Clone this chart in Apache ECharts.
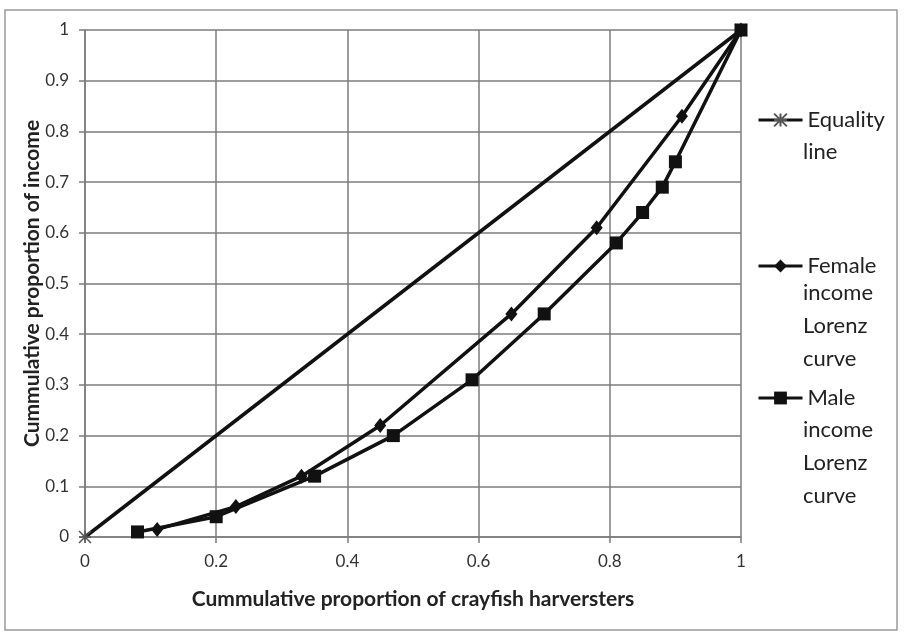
<!DOCTYPE html>
<html>
<head>
<meta charset="utf-8">
<script src="https://cdn.jsdelivr.net/npm/echarts@6/dist/echarts.min.js"></script>
<style>
  html, body { margin: 0; padding: 0; background: #fff; }
  #chart { width: 904px; height: 634px; }
</style>
</head>
<body>
<div id="chart"></div>
<script>
// data
const equalityX = [0, 1]
const equalityY = [0, 1]
const femaleX = [0.11, 0.23, 0.33, 0.45, 0.65, 0.78, 0.91, 1]
const femaleY = [0.015, 0.06, 0.12, 0.22, 0.44, 0.61, 0.83, 1]
const maleX = [0.08, 0.2, 0.35, 0.47, 0.59, 0.7, 0.81, 0.85, 0.88, 0.9, 1]
const maleY = [0.01, 0.04, 0.12, 0.2, 0.31, 0.44, 0.58, 0.64, 0.69, 0.74, 1]
const xTicks = [0, 0.2, 0.4, 0.6, 0.8, 1]
const yTicks = [0, 0.1, 0.2, 0.3, 0.4, 0.5, 0.6, 0.7, 0.8, 0.9, 1]

const names = ['Equality line', 'Female income Lorenz curve', 'Male income Lorenz curve']
const legendLines = [['Equality', 'line'], ['Female', 'income', 'Lorenz', 'curve'], ['Male', 'income', 'Lorenz', 'curve']]

const font = 'Lato, "Open Sans", sans-serif'
const gridColor = '#7c7c7c'
const pair = (xs, ys) => xs.map((x, i) => [x, ys[i]])

const chart = echarts.init(document.getElementById('chart'))

// legend has 5px padding, icon centre = top + 5 + itemHeight / 2
const legendTops = [104, 250, 382]
const legends = names.map((n, i) => ({
  data: [n],
  left: 752,
  top: legendTops[i],
  itemWidth: 44,
  itemHeight: 16,
  itemGap: 0,
  formatter: () => legendLines[i][0],
  lineStyle: { width: 3, color: '#111' },
  textStyle: { fontFamily: font, fontSize: 22, color: '#222' },
  selectedMode: false
}))

// follow-on lines of each legend label
const restTops = [135, 276, 413]
const legendRest = legendLines.map((ls, i) => ({
  type: 'text',
  left: 803,
  top: restTops[i],
  style: {
    text: ls.slice(1).join('\n'),
    font: '22px ' + font,
    lineHeight: 33,
    fill: '#222'
  }
}))

chart.setOption({
  animation: false,
  backgroundColor: '#fff',
  textStyle: { fontFamily: font },
  grid: { left: 85, right: 163, top: 30, bottom: 97 },
  legend: legends,
  graphic: [
    {
      type: 'rect',
      shape: { x: 5, y: 10, width: 892, height: 620 },
      style: { fill: 'none', stroke: '#9a9a9a', lineWidth: 1.5 },
      silent: true
    },
    ...legendRest
  ],
  xAxis: {
    type: 'value',
    min: 0,
    max: 1,
    interval: 0.2,
    name: 'Cummulative proportion of crayfish harversters',
    nameLocation: 'middle',
    nameGap: 52,
    nameMoveOverlap: false,
    nameTextStyle: { fontFamily: font, fontSize: 21, fontWeight: 'bold', color: '#222' },
    axisLine: { show: true, lineStyle: { color: gridColor, width: 1.5 } },
    axisTick: { show: true, length: 6, lineStyle: { color: gridColor, width: 1.5 } },
    axisLabel: { fontSize: 17, color: '#333', margin: 16, formatter: v => xTicks.includes(+v.toFixed(1)) ? String(+v.toFixed(1)) : '' },
    splitLine: { show: true, lineStyle: { color: gridColor, width: 1.5 } }
  },
  yAxis: {
    type: 'value',
    min: 0,
    max: 1,
    interval: 0.1,
    name: 'Cummulative proportion of income',
    nameLocation: 'middle',
    nameGap: 42,
    nameMoveOverlap: false,
    nameTextStyle: { fontFamily: font, fontSize: 21, fontWeight: 'bold', color: '#222' },
    axisLine: { show: true, lineStyle: { color: gridColor, width: 1.5 } },
    axisTick: { show: true, length: 6, lineStyle: { color: gridColor, width: 1.5 } },
    axisLabel: { fontSize: 17, color: '#333', margin: 16, formatter: v => yTicks.includes(+v.toFixed(1)) ? String(+v.toFixed(1)) : '' },
    splitLine: { show: true, lineStyle: { color: gridColor, width: 1.5 } }
  },
  series: [
    {
      name: names[0],
      type: 'line',
      data: pair(equalityX, equalityY),
      symbol: 'path://M0,0L10,10M10,0L0,10M5,0L5,10M0,5L10,5',
      symbolSize: 12,
      itemStyle: { color: 'rgba(0,0,0,0)', borderColor: '#555', borderWidth: 1.5 },
      lineStyle: { color: '#111', width: 3.5 },
      z: 2
    },
    {
      name: names[1],
      type: 'line',
      data: pair(femaleX, femaleY),
      symbol: 'diamond',
      symbolSize: [12, 15],
      itemStyle: { color: '#111' },
      lineStyle: { color: '#111', width: 3.5 },
      z: 3
    },
    {
      name: names[2],
      type: 'line',
      data: pair(maleX, maleY),
      symbol: 'rect',
      symbolSize: 13,
      itemStyle: { color: '#111' },
      lineStyle: { color: '#111', width: 3.5 },
      z: 4
    }
  ]
})
</script>
</body>
</html>
